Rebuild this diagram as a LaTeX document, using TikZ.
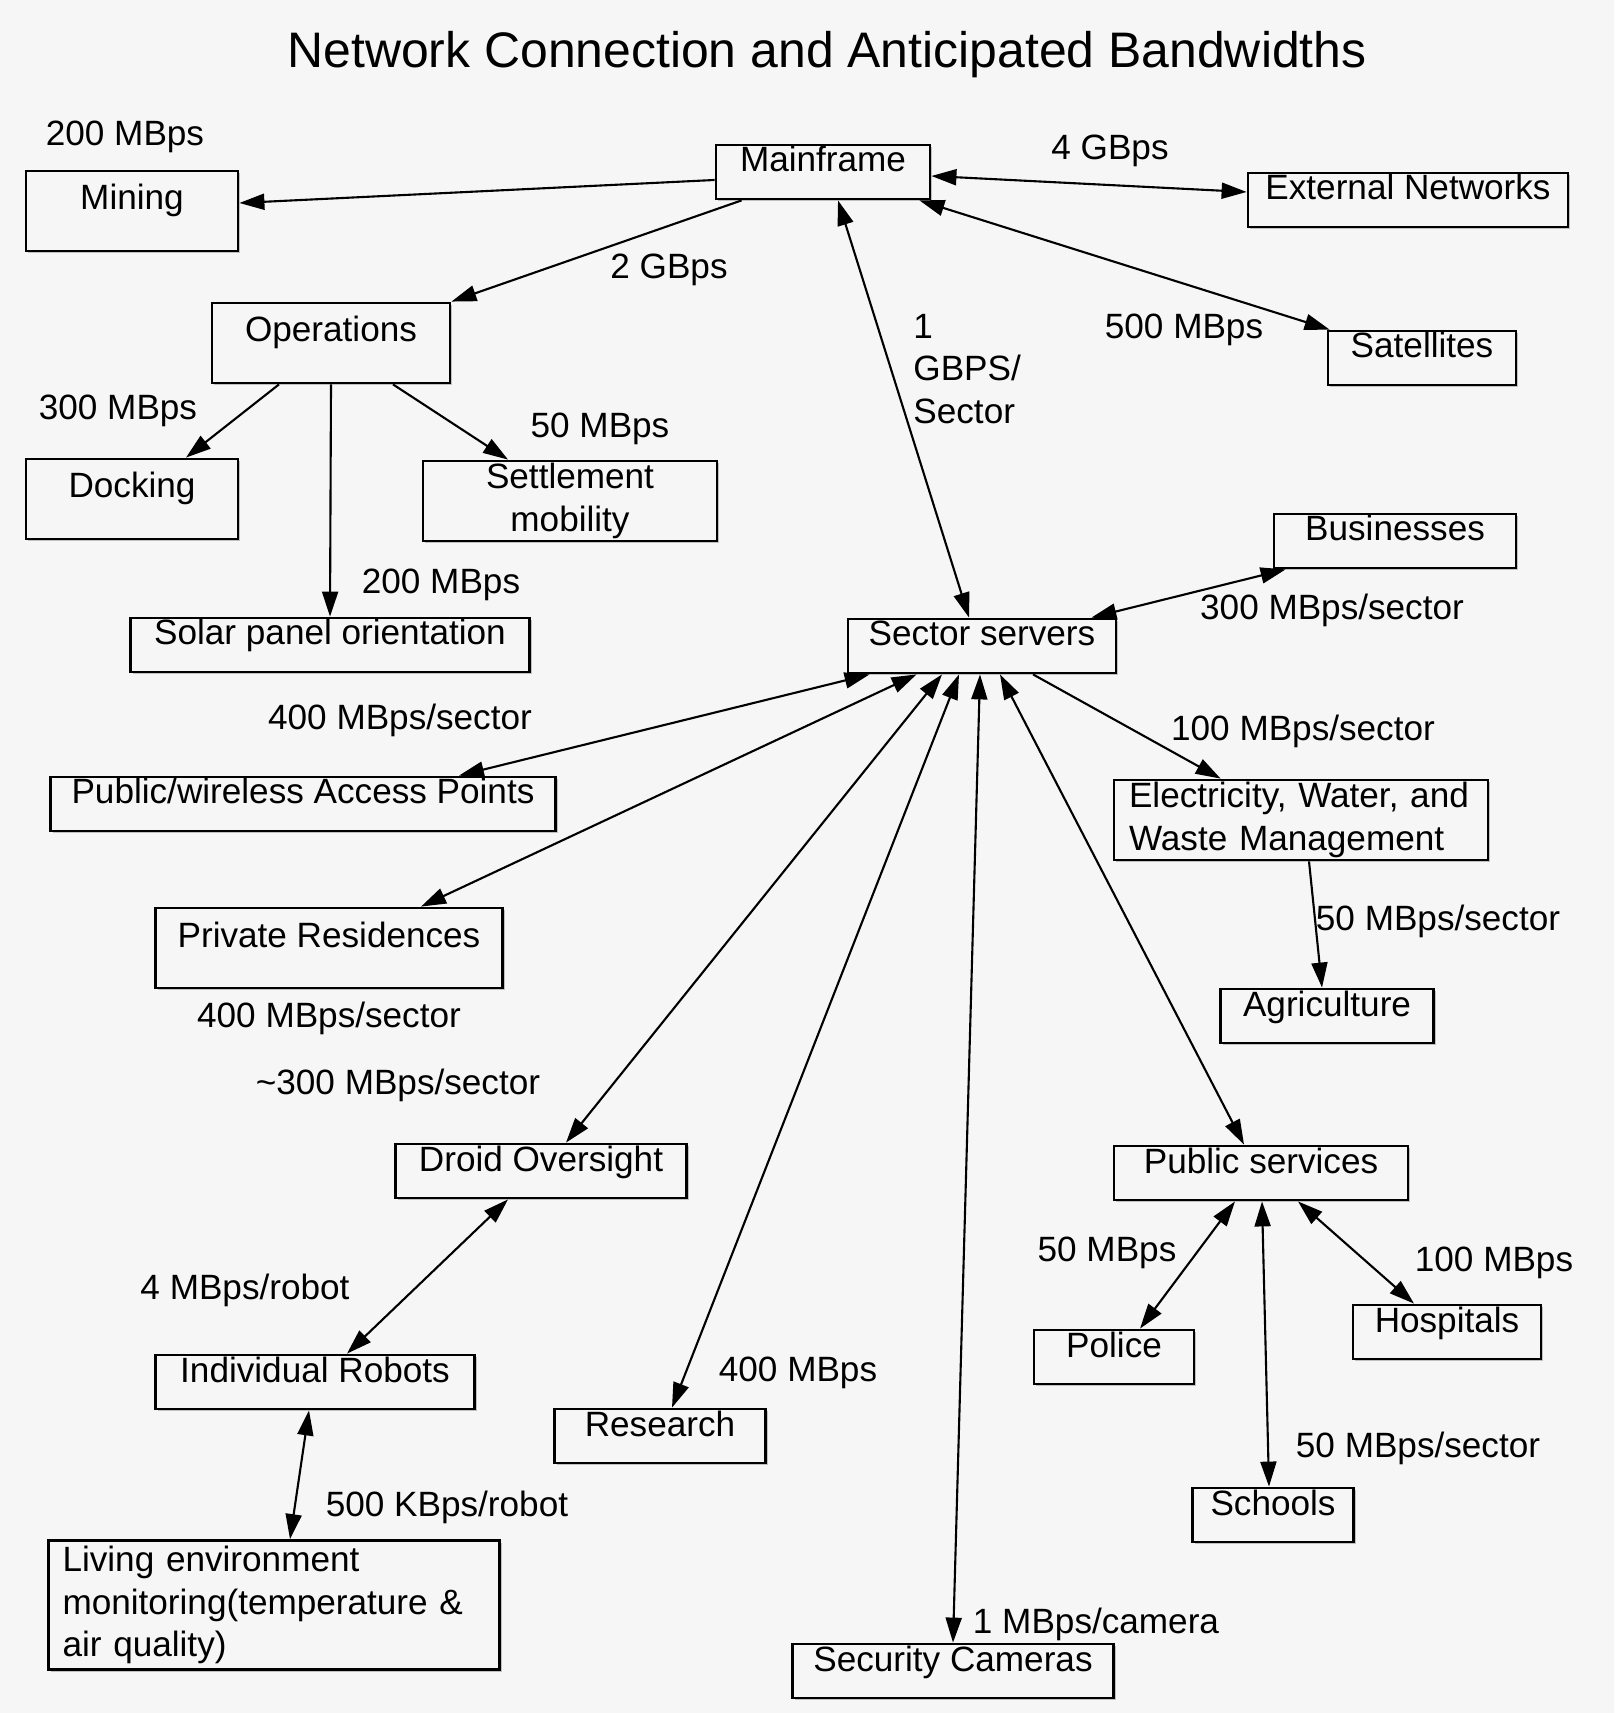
\documentclass[tikz,border=0pt]{standalone}
\usepackage{fontspec}
\setmainfont{Liberation Sans}
\usepackage{tikz}
\usetikzlibrary{arrows.meta,calc,shadows}
\definecolor{pagegray}{HTML}{F6F6F6}

\begin{document}
\begin{tikzpicture}[
  box/.style={draw,line width=0.8pt,fill=pagegray,inner xsep=0pt,inner ysep=0pt,
              text height=0.27cm,text depth=0.27cm,
              font=\fontsize{10}{12}\selectfont,
              drop shadow={shadow xshift=0.7pt,shadow yshift=-0.7pt,opacity=0.45}},
  tall/.style={text height=0.39cm,text depth=0.41cm},
  tbox/.style={draw,line width=0.8pt,fill=pagegray,inner ysep=0pt,
               minimum height=0.80cm,font=\fontsize{10}{12}\selectfont,
               drop shadow={shadow xshift=0.7pt,shadow yshift=-0.7pt,opacity=0.45}},
  lab/.style={font=\fontsize{10}{12}\selectfont},
  link/.style={line width=0.6pt,-{Triangle[length=0.25cm,width=0.16cm]}},
  both/.style={link,{Triangle[length=0.25cm,width=0.16cm]}-{Triangle[length=0.25cm,width=0.16cm]}}
]
  \fill[pagegray] (0,0) rectangle (16.14,-17.13);
  \useasboundingbox (0,0) rectangle (16.14,-17.13);

  \node[font=\fontsize{14.2}{17}\selectfont] (title) at (8.27,-0.55)
    {Network Connection and Anticipated Bandwidths};

  % top level
  \node[box,minimum width=2.14cm] (main) at (8.23,-1.72) {Mainframe};
  \node[box,tall,minimum width=2.12cm] (mining) at (1.32,-2.11) {Mining};
  \node[box,minimum width=3.20cm] (ext) at (14.08,-2.00) {External Networks};
  \node[box,tall,minimum width=2.38cm] (ops) at (3.31,-3.43) {Operations};
  \node[box,minimum width=1.88cm] (sat) at (14.22,-3.58) {Satellites};

  % operations
  \node[box,tall,minimum width=2.12cm] (dock) at (1.32,-4.99) {Docking};
  \node[tbox,align=center,minimum width=2.94cm] (settle) at (5.70,-5.01)
    {Settlement\\mobility};
  \node[box,minimum width=3.99cm] (solar) at (3.30,-6.45) {Solar panel orientation};

  % sectors
  \node[box,minimum width=2.68cm] (sector) at (9.82,-6.46) {Sector servers};
  \node[box,minimum width=2.42cm] (bus) at (13.95,-5.41) {Businesses};
  \node[box,minimum width=5.05cm] (pwap) at (3.03,-8.04) {Public/wireless Access Points};
  \node[tbox,align=left,inner xsep=0.15cm,text width=3.44cm] (elec) at (13.01,-8.20)
    {Electricity, Water, and\\Waste Management};
  \node[box,tall,minimum width=3.47cm] (priv) at (3.29,-9.48) {Private Residences};
  \node[box,minimum width=2.13cm] (agri) at (13.27,-10.16) {Agriculture};
  \node[box,minimum width=2.91cm] (droid) at (5.41,-11.71) {Droid Oversight};
  \node[box,minimum width=2.94cm] (pub) at (12.61,-11.73) {Public services};
  \node[box,minimum width=1.60cm] (police) at (11.14,-13.57) {Police};
  \node[box,minimum width=1.88cm] (hosp) at (14.47,-13.32) {Hospitals};
  \node[box,minimum width=3.19cm] (robots) at (3.15,-13.82) {Individual Robots};
  \node[box,minimum width=2.11cm] (res) at (6.60,-14.36) {Research};
  \node[box,minimum width=1.61cm] (school) at (12.73,-15.15) {Schools};
  \node[tbox,align=left,inner xsep=0.14cm,text width=4.23cm,minimum height=1.29cm] (living) at (2.74,-16.05)
    {Living environment\\monitoring(temperature \&\\air quality)};
  \node[box,minimum width=3.21cm] (cam) at (9.53,-16.71) {Security Cameras};

  % connections
  \draw[link] ([yshift=-0.08cm]main.west) -- ([yshift=0.08cm]mining.east);
  \draw[link] ([xshift=0.27cm]main.south west) -- (ops.north east);
  \draw[both] ([yshift=-0.04cm]main.east) -- ([yshift=0.08cm]ext.west);
  \draw[both] ([xshift=-0.12cm]main.south east) -- ([xshift=0.03cm]sat.north west);
  \draw[both] ([xshift=0.15cm]main.south) -- ([xshift=-0.13cm]sector.north);

  \draw[link] ([xshift=-0.52cm]ops.south) -- ([xshift=0.54cm]dock.north);
  \draw[link] ([xshift=0.62cm]ops.south) -- ([xshift=-0.62cm]settle.north);
  \draw[link] (ops.south) -- (solar.north);

  \draw[both] ([xshift=-0.26cm]sector.north east) -- ([xshift=0.13cm]bus.south west);
  \draw[both] ([xshift=0.23cm]sector.south west) -- ([xshift=1.56cm]pwap.north);
  \draw[both] ([xshift=0.70cm]sector.south west) -- ([xshift=0.92cm]priv.north);
  \draw[both] ([xshift=-0.40cm]sector.south) -- ([xshift=0.25cm]droid.north);
  \draw[both] ([xshift=-0.23cm]sector.south) -- ([xshift=0.12cm]res.north);
  \draw[both] ([xshift=-0.02cm]sector.south) -- (cam.north);
  \draw[both] ([xshift=0.18cm]sector.south) -- ([xshift=-0.17cm]pub.north);
  \draw[link] ([xshift=0.51cm]sector.south) -- ([xshift=1.08cm]elec.north west);
  \draw[link] ([xshift=0.08cm]elec.south) -- ([xshift=-0.05cm]agri.north);

  \draw[both] ([xshift=-0.33cm]droid.south) -- ([xshift=0.32cm]robots.north);
  \draw[both] ([xshift=-0.06cm]robots.south) -- ([xshift=0.16cm]living.north);

  \draw[both] ([xshift=-0.26cm]pub.south) -- ([xshift=0.26cm]police.north);
  \draw[both] ([xshift=0.01cm]pub.south) -- ([xshift=-0.04cm]school.north);
  \draw[both] ([xshift=0.37cm]pub.south) -- ([xshift=-0.33cm]hosp.north);

  % bandwidth labels
  \node[lab] (l1) at (1.25,-1.37) {200 MBps};
  \node[lab] (l2) at (11.10,-1.51) {4 GBps};
  \node[lab] (l3) at (6.69,-2.70) {2 GBps};
  \node[lab,anchor=west,align=left] (l4) at (9.01,-3.69) {1\\GBPS/\\Sector};
  \node[lab] (l5) at (11.84,-3.30) {500 MBps};
  \node[lab] (l6) at (1.18,-4.11) {300 MBps};
  \node[lab] (l7) at (6.00,-4.29) {50 MBps};
  \node[lab] (l8) at (4.41,-5.85) {200 MBps};
  \node[lab] (l9) at (13.32,-6.10) {300 MBps/sector};
  \node[lab] (l10) at (4.00,-7.20) {400 MBps/sector};
  \node[lab] (l11) at (13.03,-7.31) {100 MBps/sector};
  \node[lab] (l12) at (14.38,-9.21) {50 MBps/sector};
  \node[lab] (l13) at (3.29,-10.18) {400 MBps/sector};
  \node[lab] (l14) at (3.98,-10.85) {\textasciitilde300 MBps/sector};
  \node[lab] (l15) at (11.07,-12.53) {50 MBps};
  \node[lab] (l16) at (14.94,-12.63) {100 MBps};
  \node[lab] (l17) at (2.45,-12.90) {4 MBps/robot};
  \node[lab] (l18) at (7.98,-13.73) {400 MBps};
  \node[lab] (l19) at (14.18,-14.48) {50 MBps/sector};
  \node[lab] (l20) at (4.47,-15.07) {500 KBps/robot};
  \node[lab] (l21) at (10.96,-16.24) {1 MBps/camera};
\end{tikzpicture}
\end{document}
